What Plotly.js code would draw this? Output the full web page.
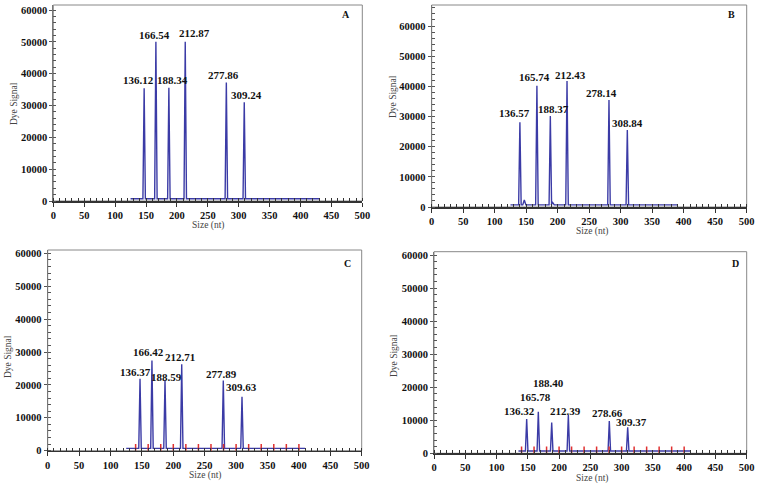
<!DOCTYPE html>
<html>
<head>
<meta charset="utf-8">
<script src="https://cdn.plot.ly/plotly-3.0.1.min.js"></script>
<style>html,body{margin:0;padding:0;background:#fff}#chart{width:760px;height:483px}</style>
</head>
<body>
<div id="chart"></div>
<script>
// ---------- data ----------
const panelNames = ["A", "B", "C", "D"];

const peakXA = [147, 166, 187, 213.5, 280, 309];
const peakYA = [35400, 50000, 35600, 50000, 37200, 31000];
const labelsA = ["136.12", "166.54", "188.34", "212.87", "277.86", "309.24"];

const peakXB = [140, 167, 188.3, 214.8, 281.4, 310.5];
const peakYB = [28100, 40200, 30200, 41800, 35500, 25500];
const labelsB = ["136.57", "165.74", "188.37", "212.43", "278.14", "308.84"];
const minorXB = [147, 192];
const minorYB = [2300, 1500];

const peakXC = [147, 166, 186.8, 213.4, 279.6, 309.4];
const peakYC = [21900, 27400, 21500, 26300, 21300, 16400];
const labelsC = ["136.37", "166.42", "188.59", "212.71", "277.89", "309.63"];

const peakXD = [148.2, 166.8, 188.2, 214.8, 280.3, 309.7];
const peakYD = [10400, 12600, 9300, 11600, 9800, 7900];
const labelsD = ["136.32", "165.78", "188.40", "212.39", "278.66", "309.37"];

const sizeStdMarks = [140, 160, 180, 200, 220, 240, 260, 280, 300, 320, 340, 360, 380, 400];
const baselineLevel = 700;

// ---------- layout / styling ----------
const W = 760, H = 483;
const px = v => v / W, py = v => 1 - v / H;

// pixel boxes of each plot area: [left, right, top, bottom], y range max
const boxes = {
  A: {l: 53.3, r: 362.3, t: 5, b: 201, ymax: 61570, base: [125, 430]},
  B: {l: 431.7, r: 746.7, t: 5, b: 207, ymax: 66960, base: [125, 390]},
  C: {l: 47.7, r: 361.7, t: 250, b: 450.7, ymax: 61000, base: [125, 410]},
  D: {l: 434, r: 746.7, t: 251.7, b: 453.3, ymax: 61000, base: [135, 410]}
};
// label offsets in px relative to each peak top (style only)
const labelShift = {
  A: [[-6, 8], [-1, 7], [4, 8], [9, 9], [-3, 8], [2, 7]],
  B: [[-5, 9], [-2, 9], [3, 7], [3, 6], [-7, 7], [0, 7]],
  C: [[-5, 7], [-3, 9], [1, 3], [-2, 7], [-2, 7], [-1, 10]],
  D: [[-7, 8], [-3, 15], [-3, 40], [-3, 4], [-2, 8], [4, 5]]
};
const letterPos = {A: [346, 14], B: [731, 15], C: [347, 263], D: [735, 263]};
const yTitlePos = {A: [14, 103], B: [393, 97], C: [8, 357], D: [394, 355]};
const xTitlePos = {A: [208, 225], B: [592, 231], C: [205, 475], D: [592, 478]};

const panels = {
  A: {x: peakXA, y: peakYA, lab: labelsA, mx: [], my: [], marks: false},
  B: {x: peakXB, y: peakYB, lab: labelsB, mx: minorXB, my: minorYB, marks: false},
  C: {x: peakXC, y: peakYC, lab: labelsC, mx: [], my: [], marks: true},
  D: {x: peakXD, y: peakYD, lab: labelsD, mx: [], my: [], marks: true}
};

const serif = "Liberation Serif, Times New Roman, serif";
const traceColor = "#3b3ba6";
const traces = [];
const layout = {
  width: W, height: H,
  margin: {l: 0, r: 0, t: 0, b: 0},
  paper_bgcolor: "#fff", plot_bgcolor: "#fff",
  showlegend: false,
  annotations: [],
  shapes: []
};

panelNames.forEach((name, i) => {
  const bx = boxes[name];
  const p = panels[name];
  const sfx = i === 0 ? "" : String(i + 1);
  const xa = "x" + sfx, ya = "y" + sfx;

  // build signal trace from peak arrays
  const all = [];
  p.x.forEach((v, k) => all.push([v, p.y[k], 2]));
  p.mx.forEach((v, k) => all.push([v, p.my[k], 2.5]));
  all.sort((a, b) => a[0] - b[0]);
  const xs = [bx.base[0]], ys = [baselineLevel];
  all.forEach(([c, h, hw]) => {
    xs.push(c - hw, c, c + hw);
    ys.push(baselineLevel, h, baselineLevel);
  });
  xs.push(bx.base[1]); ys.push(baselineLevel);
  traces.push({
    type: "scatter", mode: "lines", x: xs, y: ys, xaxis: xa, yaxis: ya,
    line: {color: traceColor, width: 1.4}, hoverinfo: "skip"
  });
  if (p.marks) {
    traces.push({
      type: "scatter", mode: "markers", xaxis: xa, yaxis: ya,
      x: sizeStdMarks, y: sizeStdMarks.map(() => 1000),
      marker: {symbol: "line-ns", size: 5, line: {color: "#e03030", width: 1.5}},
      hoverinfo: "skip"
    });
  }

  layout["xaxis" + sfx] = {
    domain: [px(bx.l), px(bx.r)], anchor: ya, range: [0, 500],
    dtick: 50, tick0: 0, ticks: "outside", ticklen: 4, tickcolor: "#333",
    minor: {dtick: 10, ticks: "inside", ticklen: 3, tickcolor: "#333"},
    showline: true, linecolor: "#333", linewidth: 1.5, mirror: false,
    showgrid: false, zeroline: false, fixedrange: true,
    tickfont: {family: serif, size: 10.5, weight: "bold", color: "#111"}
  };
  layout["yaxis" + sfx] = {
    domain: [py(bx.b), py(bx.t)], anchor: xa, range: [0, bx.ymax],
    dtick: 10000, tick0: 0, tickformat: "d", ticks: "outside", ticklen: 3, tickcolor: "#555",
    minor: {dtick: 2000, ticks: "inside", ticklen: 3, tickcolor: "#555"},
    showline: true, linecolor: "#777", linewidth: 1, mirror: false,
    showgrid: false, zeroline: false, fixedrange: true,
    tickfont: {family: serif, size: 10.5, weight: "bold", color: "#111"}
  };
  // frame
  layout.shapes.push({
    type: "rect", xref: "paper", yref: "paper",
    x0: px(bx.l), x1: px(bx.r), y0: py(bx.b), y1: py(bx.t),
    line: {color: "#888", width: 1}, fillcolor: "rgba(0,0,0,0)", layer: "below"
  });

  // peak labels
  p.lab.forEach((t, k) => {
    const s = labelShift[name][k];
    layout.annotations.push({
      xref: xa, yref: ya, x: p.x[k], y: p.y[k], text: t, showarrow: false,
      xanchor: "center", yanchor: "middle", xshift: s[0], yshift: s[1],
      font: {family: serif, size: 11, weight: "bold", color: "#111"}
    });
  });
  // panel letter
  layout.annotations.push({
    xref: "paper", yref: "paper", x: px(letterPos[name][0]), y: py(letterPos[name][1]),
    text: name, showarrow: false, xanchor: "center", yanchor: "middle",
    font: {family: serif, size: 10, weight: "bold", color: "#111"}
  });
  // axis titles
  layout.annotations.push({
    xref: "paper", yref: "paper", x: px(yTitlePos[name][0]), y: py(yTitlePos[name][1]),
    text: "Dye Signal", textangle: -90, showarrow: false, xanchor: "center", yanchor: "middle",
    borderpad: 0, font: {family: serif, size: 9.5, color: "#444"}
  });
  layout.annotations.push({
    xref: "paper", yref: "paper", x: px(xTitlePos[name][0]), y: py(xTitlePos[name][1]),
    text: "Size (nt)", showarrow: false, xanchor: "center", yanchor: "middle",
    borderpad: 0, font: {family: serif, size: 9.5, color: "#444"}
  });
});

Plotly.newPlot("chart", traces, layout, {staticPlot: true, displayModeBar: false});
</script>
</body>
</html>
